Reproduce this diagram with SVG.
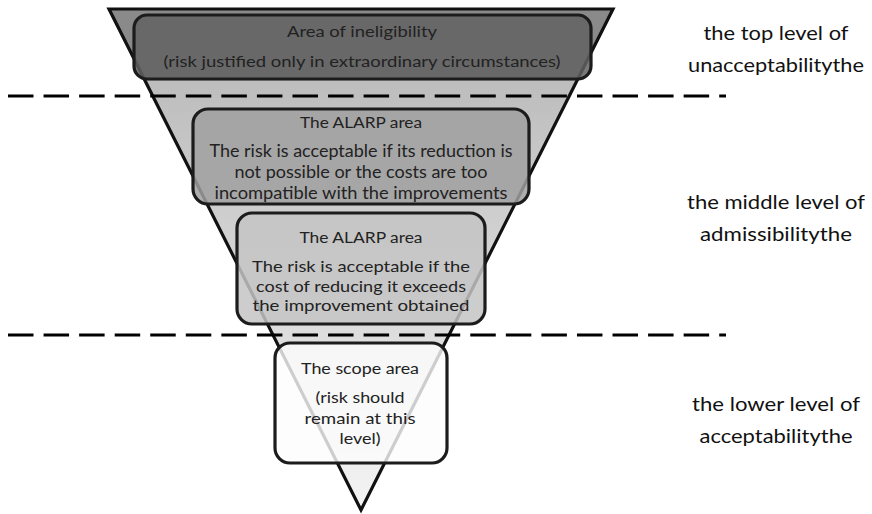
<svg xmlns="http://www.w3.org/2000/svg" width="872" height="514" viewBox="0 0 872 514">
<style>
.box{stroke:#1c1c1c;stroke-width:3.2}
.t{font-family:Lato,"Liberation Sans",sans-serif;text-anchor:middle;fill:#222}
.ts{font-size:15.5px}
.tb{font-size:17px}
.tc{font-size:16px}
.side{font-family:Lato,"Liberation Sans",sans-serif;font-size:20px;text-anchor:middle;fill:#111}
.dash{stroke:#000;stroke-width:3.2;stroke-dasharray:25.5 10.06;fill:none}
</style>
<defs>
<linearGradient id="fun" x1="0" y1="9" x2="0" y2="510" gradientUnits="userSpaceOnUse">
<stop offset="0" stop-color="#8a8a8a"/>
<stop offset="0.142" stop-color="#8a8a8a"/>
<stop offset="0.143" stop-color="#bdbdbd"/>
<stop offset="1" stop-color="#f4f4f4"/>
</linearGradient>
</defs>
<rect width="872" height="514" fill="#fff"/>
<g id="funnel">
<polygon points="109,9 613,9 361,510" fill="url(#fun)" stroke="#111" stroke-width="3.2" stroke-linejoin="miter"/>
</g>
<g id="dividers">
<line class="dash" x1="8" y1="96" x2="726" y2="96"/>
<line class="dash" x1="8" y1="335" x2="726" y2="335"/>
</g>
<g id="node-ineligibility">
<rect class="box" x="134" y="15" width="457" height="64" rx="13" fill="#626262" fill-opacity="0.85"/>
<text class="t ts" x="362" y="37" fill="#333" textLength="150" lengthAdjust="spacingAndGlyphs">Area of ineligibility</text>
<text class="t ts" x="362" y="67" fill="#333" textLength="397" lengthAdjust="spacingAndGlyphs">(risk justified only in extraordinary circumstances)</text>
</g>
<g id="node-alarp1">
<rect class="box" x="193" y="109" width="336" height="95" rx="15" fill="#a0a0a0" fill-opacity="0.85"/>
<text class="t ts" x="361" y="128" textLength="122" lengthAdjust="spacingAndGlyphs">The ALARP area</text>
<text class="t tb" x="361" y="157" textLength="303" lengthAdjust="spacingAndGlyphs">The risk is acceptable if its reduction is</text>
<text class="t tb" x="361" y="178" textLength="253" lengthAdjust="spacingAndGlyphs">not possible or the costs are too</text>
<text class="t tb" x="361" y="199" textLength="293" lengthAdjust="spacingAndGlyphs">incompatible with the improvements</text>
</g>
<g id="node-alarp2">
<rect class="box" x="237" y="213" width="248" height="111" rx="15" fill="#c4c4c4" fill-opacity="0.85"/>
<text class="t ts" x="361" y="243" textLength="123" lengthAdjust="spacingAndGlyphs">The ALARP area</text>
<text class="t tc" x="361" y="272" textLength="218" lengthAdjust="spacingAndGlyphs">The risk is acceptable if the</text>
<text class="t tc" x="361" y="292" textLength="210" lengthAdjust="spacingAndGlyphs">cost of reducing it exceeds</text>
<text class="t tc" x="361" y="311" textLength="217" lengthAdjust="spacingAndGlyphs">the improvement obtained</text>
</g>
<g id="node-scope">
<rect class="box" x="275" y="343" width="172" height="120" rx="15" fill="#fdfdfd" fill-opacity="0.8"/>
<text class="t ts" x="360" y="374" textLength="118" lengthAdjust="spacingAndGlyphs">The scope area</text>
<text class="t tc" x="360" y="403" textLength="89" lengthAdjust="spacingAndGlyphs">(risk should</text>
<text class="t tc" x="360" y="424" textLength="111" lengthAdjust="spacingAndGlyphs">remain at this</text>
<text class="t tc" x="360" y="444" textLength="41" lengthAdjust="spacingAndGlyphs">level)</text>
</g>
<g id="label-top">
<text class="side" x="776" y="40" textLength="145" lengthAdjust="spacingAndGlyphs">the top level of</text>
<text class="side" x="776" y="72" textLength="176" lengthAdjust="spacingAndGlyphs">unacceptabilitythe</text>
</g>
<g id="label-middle">
<text class="side" x="776" y="209" textLength="178" lengthAdjust="spacingAndGlyphs">the middle level of</text>
<text class="side" x="776" y="241" textLength="152" lengthAdjust="spacingAndGlyphs">admissibilitythe</text>
</g>
<g id="label-lower">
<text class="side" x="776" y="411" textLength="168" lengthAdjust="spacingAndGlyphs">the lower level of</text>
<text class="side" x="776" y="443" textLength="153" lengthAdjust="spacingAndGlyphs">acceptabilitythe</text>
</g>
</svg>
